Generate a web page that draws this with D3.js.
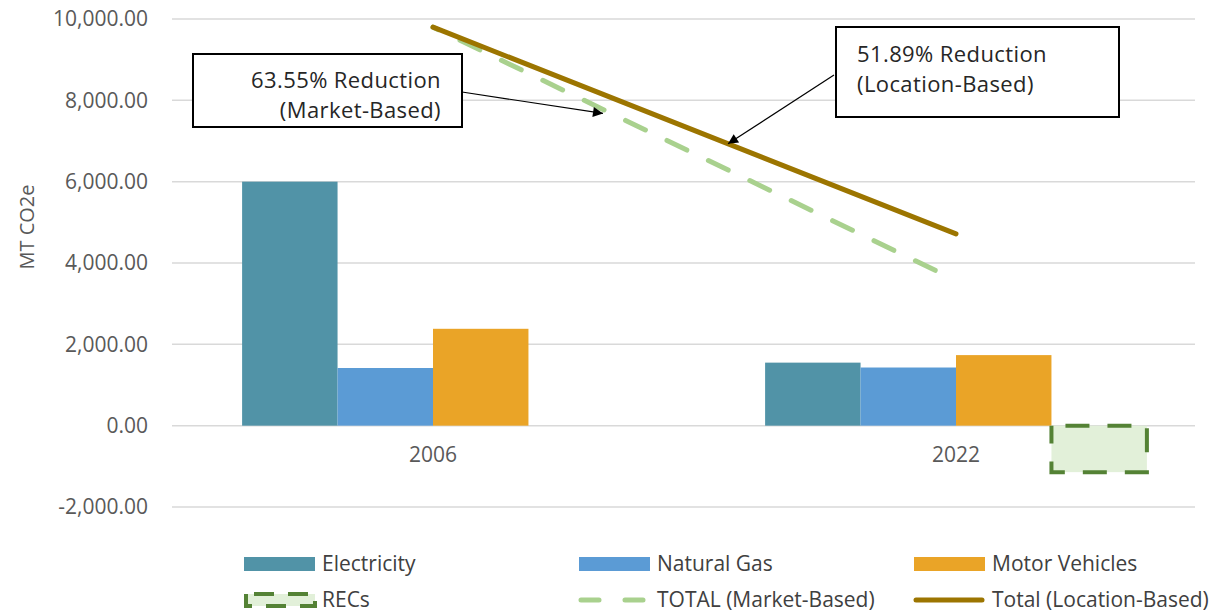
<!DOCTYPE html>
<html>
<head>
<meta charset="utf-8">
<script src="https://cdn.jsdelivr.net/npm/d3@7/dist/d3.min.js"></script>
<style>
  html, body { margin: 0; padding: 0; background: #fff; }
  svg { display: block; }
  .tick text { font-family: "Open Sans", sans-serif; fill: #595959; }
</style>
</head>
<body>
<svg id="chart" width="1224" height="613"></svg>
<script>
// Emissions by source, MT CO2e
const years = ["2006", "2022"];
const seriesKeys = ["Electricity", "Natural Gas", "Motor Vehicles", "RECs"];
const electricity = [6000, 1550];
const naturalGas = [1418, 1430];
const motorVehicles = [2382, 1735];
const recs = [0, -1143];
const yTicks = [-2000, 0, 2000, 4000, 6000, 8000, 10000];

// Totals: location-based is the sum of sources, market-based subtracts RECs
const totalLocation = years.map((_, i) => electricity[i] + naturalGas[i] + motorVehicles[i]);
const totalMarket = years.map((_, i) => totalLocation[i] + recs[i]);

const marketNote = ["63.55% Reduction", "(Market-Based)"];
const locationNote = ["51.89% Reduction", "(Location-Based)"];

const colors = {
  "Electricity": "#5193A7",
  "Natural Gas": "#5B9BD5",
  "Motor Vehicles": "#EAA427",
  "RECs": "#E2F0D9"
};
const recsStroke = "#548235";
const marketColor = "#A9D18E";
const locationColor = "#9C7500";

const svg = d3.select("#chart");
const plot = { left: 172, right: 1195, top: 19, bottom: 507 };

const x0 = d3.scaleBand().domain(years).range([171.5, 1217.5])
  .paddingInner(0.27).paddingOuter(0.135);
const x1 = d3.scaleBand().domain(seriesKeys).range([0, x0.bandwidth()]);
const y = d3.scaleLinear().domain([-2000, 10000]).range([plot.bottom, plot.top]);

// Gridlines
svg.append("g")
  .selectAll("line").data(yTicks).join("line")
  .attr("x1", plot.left).attr("x2", plot.right)
  .attr("y1", d => y(d)).attr("y2", d => y(d))
  .attr("stroke", "#D9D9D9").attr("stroke-width", 1.5);

// Y axis labels (plain hyphen for negatives)
const fmt = d3.format(",.2f");
const yAxis = svg.append("g").attr("transform", `translate(${plot.left},0)`)
  .call(d3.axisLeft(y).tickValues(yTicks).tickFormat(d => fmt(d).replace("\u2212", "-"))
    .tickSize(0).tickPadding(24));
yAxis.select(".domain").remove();
yAxis.selectAll("text").style("font-size", "21px");

svg.append("text")
  .attr("transform", "translate(34,227) rotate(-90)")
  .attr("text-anchor", "middle")
  .style("font-family", "Open Sans, sans-serif")
  .style("font-size", "20px")
  .attr("fill", "#595959")
  .text("MT CO2e");

// X axis labels
const xAxis = svg.append("g").attr("transform", `translate(0,${y(0)})`)
  .call(d3.axisBottom(x0).tickSize(0).tickPadding(21));
xAxis.select(".domain").remove();
xAxis.selectAll("text").style("font-size", "21px");

// Bars
const seriesValues = {
  "Electricity": electricity,
  "Natural Gas": naturalGas,
  "Motor Vehicles": motorVehicles,
  "RECs": recs
};
const barData = [];
years.forEach((yr, i) => {
  seriesKeys.forEach(k => barData.push({ year: yr, key: k, value: seriesValues[k][i] }));
});

svg.append("g").selectAll("rect")
  .data(barData.filter(d => d.value !== 0)).join("rect")
  .attr("x", d => x0(d.year) + x1(d.key))
  .attr("width", x1.bandwidth())
  .attr("y", d => y(Math.max(0, d.value)))
  .attr("height", d => Math.abs(y(d.value) - y(0)))
  .attr("fill", d => colors[d.key])
  .attr("stroke", d => d.key === "RECs" ? recsStroke : "none")
  .attr("stroke-width", d => d.key === "RECs" ? 4 : 0)
  .attr("stroke-dasharray", d => d.key === "RECs" ? "24,18" : null)
  .attr("stroke-dashoffset", -14);

// Total lines
const cx = yr => x0(yr) + x0.bandwidth() / 2;
const line = d3.line().x(d => cx(d.year)).y(d => y(d.value));

svg.append("path")
  .datum(years.map((yr, i) => ({ year: yr, value: totalMarket[i] })))
  .attr("d", line)
  .attr("fill", "none")
  .attr("stroke", marketColor)
  .attr("stroke-width", 5)
  .attr("stroke-linecap", "round")
  .attr("stroke-dasharray", "22,24")
  .attr("stroke-dashoffset", 16);

svg.append("path")
  .datum(years.map((yr, i) => ({ year: yr, value: totalLocation[i] })))
  .attr("d", line)
  .attr("fill", "none")
  .attr("stroke", locationColor)
  .attr("stroke-width", 5)
  .attr("stroke-linecap", "round");

// Arrow marker
svg.append("defs").append("marker")
  .attr("id", "arrow")
  .attr("viewBox", "0 0 10 10")
  .attr("refX", 10).attr("refY", 5)
  .attr("markerWidth", 13).attr("markerHeight", 10)
  .attr("markerUnits", "userSpaceOnUse")
  .attr("orient", "auto")
  .append("path").attr("d", "M0,0 L10,5 L0,10 Z").attr("fill", "#000");

// Point on a total line at a given x position
function pointOn(values, px) {
  const xa = cx(years[0]), xb = cx(years[1]);
  const t = (px - xa) / (xb - xa);
  return [px, y(values[0]) + t * (y(values[1]) - y(values[0]))];
}

function callout(box, lines, anchor, textX, baselines, from, tipX, values, tipDy) {
  const tip = pointOn(values, tipX);
  svg.append("line")
    .attr("x1", from[0]).attr("y1", from[1])
    .attr("x2", tip[0]).attr("y2", tip[1] + tipDy)
    .attr("stroke", "#000").attr("stroke-width", 1.2)
    .attr("marker-end", "url(#arrow)");
  svg.append("rect")
    .attr("x", box[0]).attr("y", box[1]).attr("width", box[2]).attr("height", box[3])
    .attr("fill", "#fff").attr("stroke", "#000").attr("stroke-width", 2);
  svg.append("g").selectAll("text").data(lines).join("text")
    .attr("x", textX).attr("y", (d, i) => baselines[i])
    .attr("text-anchor", anchor)
    .style("font-family", "Open Sans, sans-serif")
    .style("font-size", "22px")
    .style("letter-spacing", "0.4px")
    .attr("fill", "#262626")
    .text(d => d);
}

callout([193, 54, 269, 73], marketNote, "end", 441, [88, 118], [462, 92], 603, totalMarket, 4);
callout([836, 27, 283, 90], locationNote, "start", 857, [62, 92], [834, 75], 728, totalLocation, 0);

// Legend
const legendItems = [
  { label: "Electricity", type: "bar", key: "Electricity", x: 244, row: 0 },
  { label: "Natural Gas", type: "bar", key: "Natural Gas", x: 579, row: 0 },
  { label: "Motor Vehicles", type: "bar", key: "Motor Vehicles", x: 914, row: 0 },
  { label: "RECs", type: "recs", key: "RECs", x: 244, row: 1 },
  { label: "TOTAL (Market-Based)", type: "dash", x: 579, row: 1 },
  { label: "Total (Location-Based)", type: "solid", x: 914, row: 1 }
];
const rowY = [564, 600];
const legend = svg.append("g");
legendItems.forEach(it => {
  const cy = rowY[it.row];
  const g = legend.append("g");
  if (it.type === "bar") {
    g.append("rect").attr("x", it.x).attr("y", cy - 7).attr("width", 71).attr("height", 14)
      .attr("fill", colors[it.key]);
  } else if (it.type === "recs") {
    g.append("rect").attr("x", it.x + 2).attr("y", cy - 6).attr("width", 69).attr("height", 12)
      .attr("fill", colors.RECs).attr("stroke", recsStroke).attr("stroke-width", 4)
      .attr("stroke-dasharray", "20,14").attr("stroke-dashoffset", -8);
  } else if (it.type === "dash") {
    g.append("line").attr("x1", it.x + 2).attr("x2", it.x + 68).attr("y1", cy).attr("y2", cy)
      .attr("stroke", marketColor).attr("stroke-width", 5).attr("stroke-linecap", "round")
      .attr("stroke-dasharray", "18,26");
  } else {
    g.append("line").attr("x1", it.x + 2).attr("x2", it.x + 68).attr("y1", cy).attr("y2", cy)
      .attr("stroke", locationColor).attr("stroke-width", 5).attr("stroke-linecap", "round");
  }
  g.append("text")
    .attr("x", it.x + 78).attr("y", cy).attr("dy", "0.35em")
    .style("font-family", "'Open Sans', sans-serif")
    .style("font-size", "21px")
    .attr("fill", "#404040")
    .text(it.label);
});
</script>
</body>
</html>
